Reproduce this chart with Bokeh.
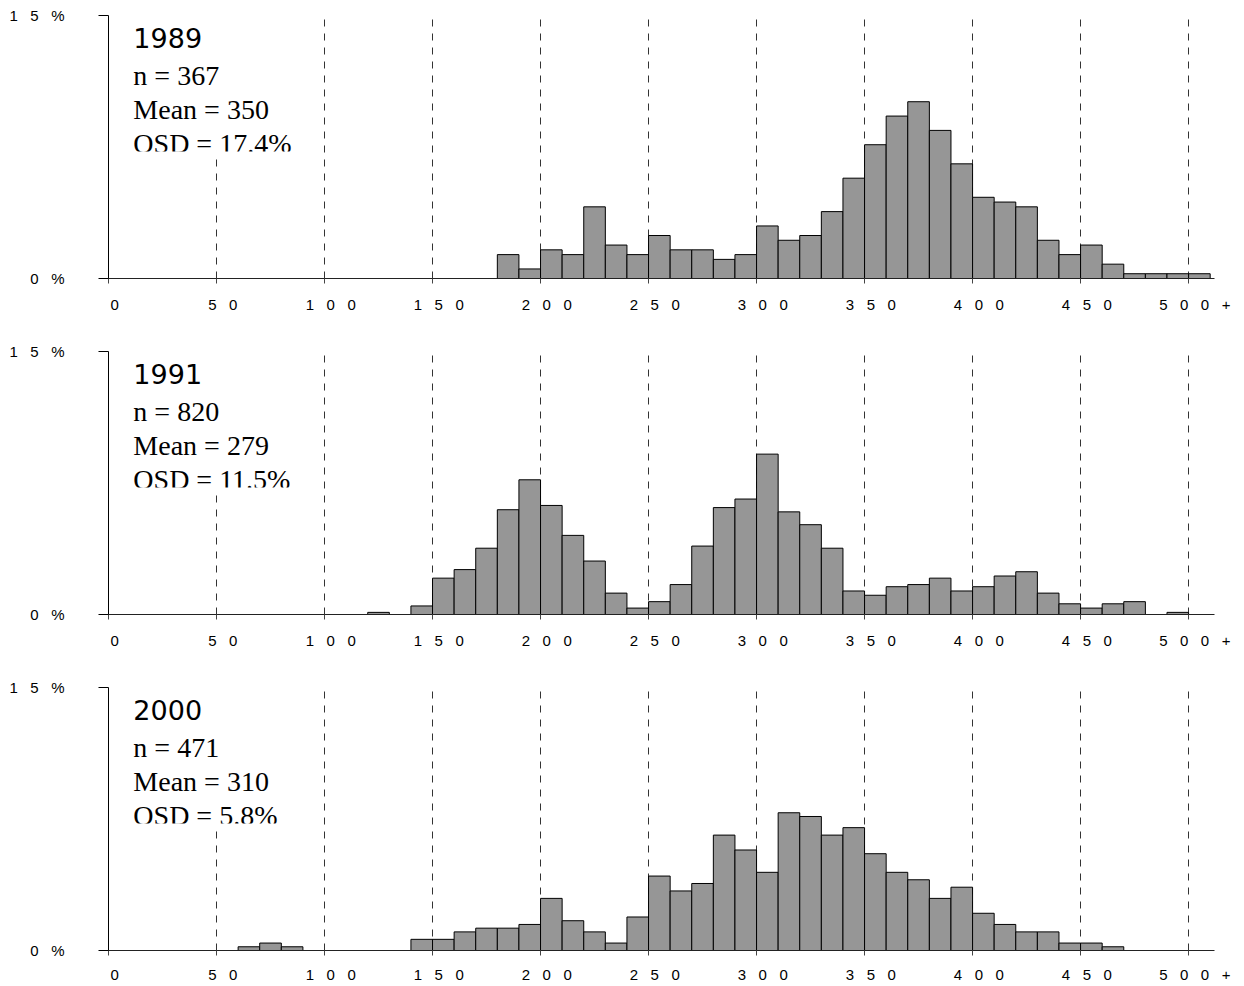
from bokeh.plotting import figure
from bokeh.layouts import column
from bokeh.models import Range1d, FixedTicker, ColumnDataSource
from bokeh.core.properties import value
from bokeh.embed import file_html
from bokeh.resources import INLINE

# ---- survey summaries -------------------------------------------------------
years = ["1989", "1991", "2000"]
sample_sizes = [367, 820, 471]
means = [350, 279, 310]
osd_values = ["17.4%", "11.5%", "5.8%"]

# ---- histogram counts per 10-unit bin (bin start values) --------------------
bins_1989 = [180, 190, 200, 210, 220, 230, 240, 250, 260, 270, 280, 290, 300,
             310, 320, 330, 340, 350, 360, 370, 380, 390, 400, 410, 420, 430,
             440, 450, 460, 470, 480, 490, 500]
counts_1989 = [5, 2, 6, 5, 15, 7, 5, 9, 6, 6, 4, 5, 11,
               8, 9, 14, 21, 28, 34, 37, 31, 24, 17, 16, 15, 8,
               5, 7, 3, 1, 1, 1, 1]

bins_1991 = [120, 130, 140, 150, 160, 170, 180, 190, 200, 210, 220, 230, 240,
             250, 260, 270, 280, 290, 300, 310, 320, 330, 340, 350, 360, 370,
             380, 390, 400, 410, 420, 430, 440, 450, 460, 470, 480, 490]
counts_1991 = [1, 0, 4, 17, 21, 31, 49, 63, 51, 37, 25, 10, 3,
               6, 14, 32, 50, 54, 75, 48, 42, 31, 11, 9, 13, 14,
               17, 11, 13, 18, 20, 10, 5, 3, 5, 6, 0, 1]

bins_2000 = [60, 70, 80, 140, 150, 160, 170, 180, 190, 200, 210, 220, 230,
             240, 250, 260, 270, 280, 290, 300, 310, 320, 330, 340, 350, 360,
             370, 380, 390, 400, 410, 420, 430, 440, 450, 460]
counts_2000 = [1, 2, 1, 3, 3, 5, 6, 6, 7, 14, 8, 5, 2,
               9, 20, 16, 18, 31, 27, 21, 37, 36, 31, 33, 26, 21,
               19, 14, 17, 10, 7, 5, 5, 2, 2, 1]

bin_width = 10

# ---- axis ticks and labels --------------------------------------------------
x_ticks = [0, 50, 100, 150, 200, 250, 300, 350, 400, 450, 500]
x_tick_labels = ["0", "50", "100", "150", "200", "250", "300", "350", "400", "450", "500+"]
y_ticks = [0, 15]
y_tick_labels = ["0%", "15%"]

GAP = "\u00a0\u00a0\u00a0"


def spaced(s):
    return GAP.join(s)


TICK_FONT = "Liberation Sans"
TICK_SIZE = "15px"


def make_panel(year, n, mean, osd, bins, counts, height, border_bottom, x_standoff):
    p = figure(width=1240, height=height, output_backend="svg", toolbar_location=None,
               x_range=Range1d(0, 512), y_range=Range1d(0, 15),
               min_border_left=108, min_border_right=26,
               min_border_top=15, min_border_bottom=border_bottom,
               outline_line_color=None, background_fill_color="white")

    # y axis: only 0 % and 15 %
    yax = p.yaxis[0]
    yax.ticker = FixedTicker(ticks=y_ticks)
    yax.major_label_overrides = {t: spaced(lbl) for t, lbl in zip(y_ticks, y_tick_labels)}
    yax.major_tick_out = 10
    yax.major_tick_in = 0
    yax.minor_tick_line_color = None
    yax.major_label_standoff = 34
    yax.major_label_text_font = TICK_FONT
    yax.major_label_text_font_size = TICK_SIZE
    yax.major_label_text_color = "black"
    yax.axis_line_color = "black"
    yax.major_tick_line_color = "black"

    # x axis: line, short ticks and letter-spaced labels
    xax = p.xaxis[0]
    xax.ticker = FixedTicker(ticks=x_ticks)
    xax.major_tick_out = 5
    xax.major_tick_in = 0
    xax.minor_tick_line_color = None
    xax.major_label_overrides = {t: GAP + spaced(lbl) for t, lbl in zip(x_ticks, x_tick_labels)}
    xax.major_label_standoff = x_standoff
    xax.major_label_text_font = TICK_FONT
    xax.major_label_text_font_size = TICK_SIZE
    xax.major_label_text_color = "black"
    xax.axis_line_color = "#222222"
    xax.major_tick_line_color = "#444444"

    # dashed vertical guides
    p.xgrid.ticker = FixedTicker(ticks=x_ticks[1:])
    p.xgrid.grid_line_color = "#333333"
    p.xgrid.grid_line_dash = "7 7"
    p.xgrid.grid_line_width = 1
    p.ygrid.visible = False

    # white text box
    box_left, box_right = 7.9, 88.9
    box_bottom, clip_y = 7.07, 7.24
    p.quad(left=[box_left], right=[box_right], bottom=[box_bottom], top=[15],
           fill_color="white", line_color=None)

    p.text(x=[11.5], y=[13.69], text=[year], text_font=value("DejaVu Sans"),
           text_font_size="27px", text_color="black", text_baseline="alphabetic")
    lines = ["n = %d" % n, "Mean = %d" % mean, "OSD = %s" % osd]
    p.text(x=[11.5, 11.5, 11.5], y=[11.58, 9.64, 7.70], text=lines,
           text_font=value("Liberation Serif"), text_font_size="28px",
           text_color="black", text_baseline="alphabetic")
    # the box's lower edge trims the last line
    p.quad(left=[box_left], right=[box_right], bottom=[box_bottom], top=[clip_y],
           fill_color="white", line_color=None)

    # histogram bars, as percent of sample
    src = ColumnDataSource(dict(
        left=bins,
        right=[b + bin_width for b in bins],
        top=[c / n * 100 for c in counts],
    ))
    p.quad(left="left", right="right", bottom=0, top="top", source=src,
           fill_color="#969696", line_color="black", line_width=1)
    return p


panels = []
data = [(bins_1989, counts_1989), (bins_1991, counts_1991), (bins_2000, counts_2000)]
heights = [336, 336, 314]
bottoms = [58, 58, 36]
standoffs = [12, 12, 10]
for i in range(3):
    panels.append(make_panel(years[i], sample_sizes[i], means[i], osd_values[i],
                             data[i][0], data[i][1], heights[i], bottoms[i], standoffs[i]))

layout = column(*panels, spacing=0)
open("out.html", "w").write(file_html(layout, INLINE))
